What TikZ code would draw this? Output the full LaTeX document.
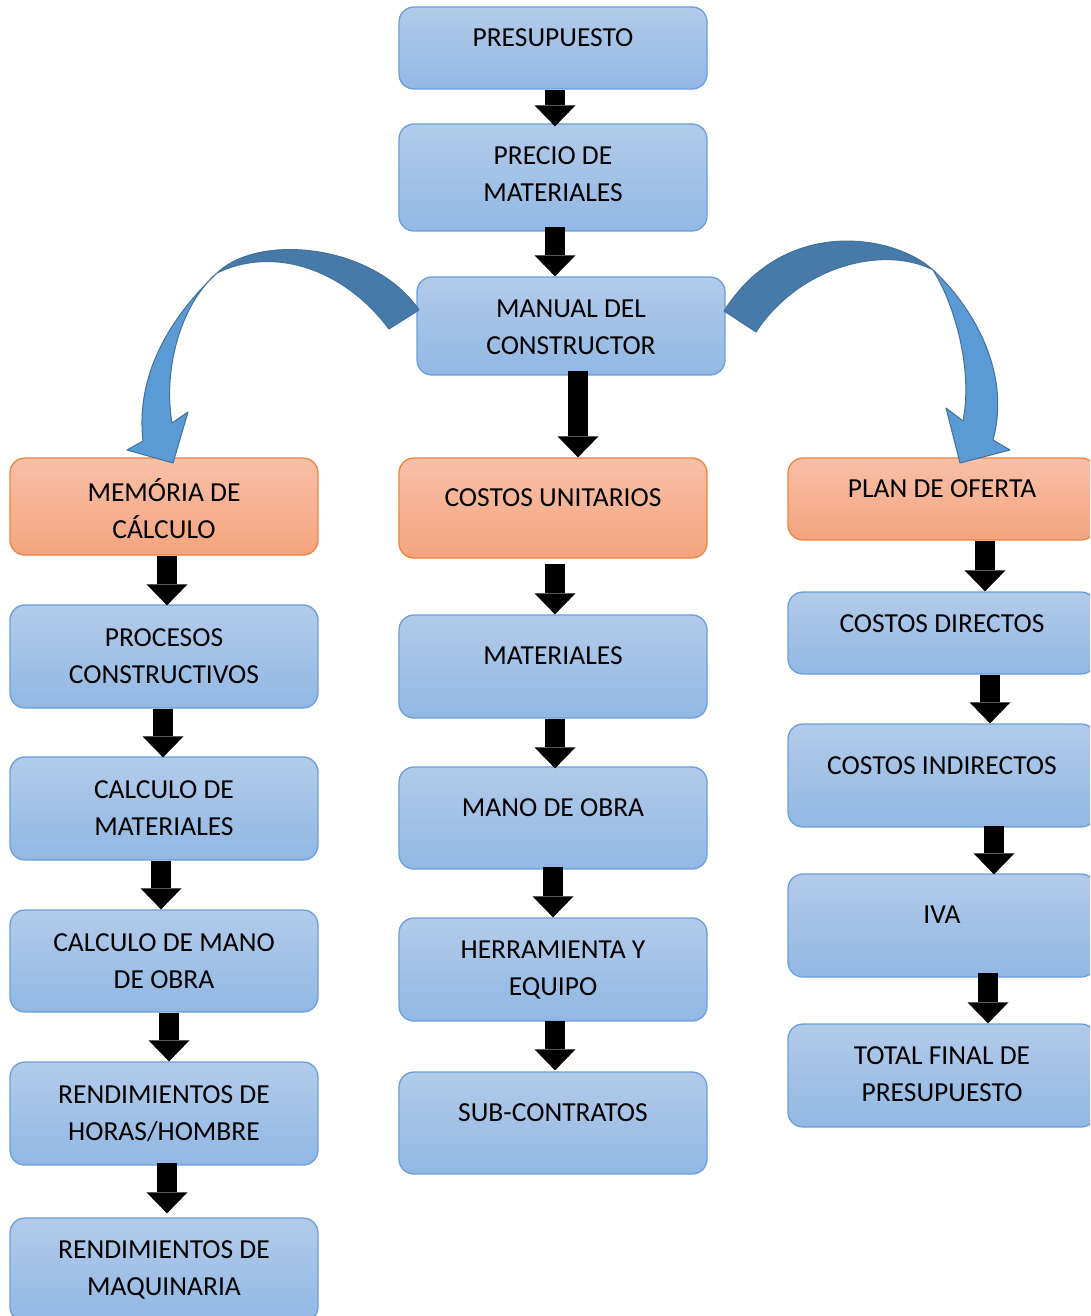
\documentclass[tikz,border=0pt]{standalone}
\usepackage{fontspec}
\setmainfont{Carlito}
\usetikzlibrary{arrows.meta}

\definecolor{blueTop}{RGB}{178,203,234}
\definecolor{blueBot}{RGB}{145,184,228}
\definecolor{blueLine}{RGB}{108,158,218}
\definecolor{orTop}{RGB}{248,192,168}
\definecolor{orBot}{RGB}{244,164,126}
\definecolor{orLine}{RGB}{238,132,60}
\definecolor{arcDark}{RGB}{71,122,169}
\definecolor{arcLight}{RGB}{91,155,213}
\definecolor{arcLine}{RGB}{65,113,156}

\begin{document}
\begin{tikzpicture}[x=1pt,y=-1pt,
  box/.style={rounded corners=15pt, line width=1.3pt, minimum width=308pt, inner sep=0pt},
  bluebox/.style={box, draw=blueLine, top color=blueTop, bottom color=blueBot},
  orangebox/.style={box, draw=orLine, top color=orTop, bottom color=orBot},
  lbl/.style={font=\fontsize{27.5}{37}\selectfont, align=center, inner sep=0pt},
  blk/.style={draw=black, line width=20pt, -{Triangle[width=41pt,length=21pt,line width=0pt]}},
  curvearrow/.style={draw=arcLine, line width=1pt, line join=round},
]
\useasboundingbox (0,0) rectangle (1090,1316);
\clip (0,0) rectangle (1090,1316);

% ---- centre column ----
\node[bluebox, minimum height=82pt]  (pres) at (553,48) {};
\node[bluebox, minimum height=107pt] (prec) at (553,177.5) {};
\node[bluebox, minimum height=98pt]  (man)  at (571,326) {};
\node[orangebox, minimum height=100pt] (cu) at (553,508) {};
\node[bluebox, minimum height=103pt] (mat)  at (553,666.5) {};
\node[bluebox, minimum height=102pt] (mano) at (553,818) {};
\node[bluebox, minimum height=103pt] (herr) at (553,969.5) {};
\node[bluebox, minimum height=102pt] (sub)  at (553,1123) {};

% ---- left column ----
\node[orangebox, minimum height=97pt] (mem) at (164,506.5) {};
\node[bluebox, minimum height=103pt] (proc) at (164,656.5) {};
\node[bluebox, minimum height=103pt] (cmat) at (164,808.5) {};
\node[bluebox, minimum height=102pt] (cmo)  at (164,961) {};
\node[bluebox, minimum height=103pt] (rhh)  at (164,1113.5) {};
\node[bluebox, minimum height=104pt] (rmaq) at (164,1270) {};

% ---- right column ----
\node[orangebox, minimum height=82pt] (plan) at (942,499) {};
\node[bluebox, minimum height=82pt]  (cdir) at (942,633) {};
\node[bluebox, minimum height=103pt] (cind) at (942,775.5) {};
\node[bluebox, minimum height=103pt] (iva)  at (942,925.5) {};
\node[bluebox, minimum height=103pt] (tot)  at (942,1075.5) {};

% ---- labels ----
\node[lbl] (pres-t) at (553,38) {PRESUPUESTO};
\node[lbl] (prec-t) at (553,174.5) {PRECIO DE\\MATERIALES};
\node[lbl] (man-t)  at (571,327.5) {MANUAL DEL\\CONSTRUCTOR};
\node[lbl] (cu-t)   at (553,498) {COSTOS UNITARIOS};
\node[lbl] (mat-t)  at (553,656) {MATERIALES};
\node[lbl] (mano-t) at (553,808) {MANO DE OBRA};
\node[lbl] (herr-t) at (553,969.5) {HERRAMIENTA Y\\EQUIPO};
\node[lbl] (sub-t)  at (553,1113) {SUB-CONTRATOS};

\node[lbl] (mem-t)  at (164,508.5) {MEMÓRIA DE\\CÁLCULO};
\node[lbl] (proc-t) at (164,656.5) {PROCESOS\\CONSTRUCTIVOS};
\node[lbl] (cmat-t) at (164,808.5) {CALCULO DE\\MATERIALES};
\node[lbl] (cmo-t)  at (164,961.5) {CALCULO DE MANO\\DE OBRA};
\node[lbl] (rhh-t)  at (164,1113.5) {RENDIMIENTOS DE\\HORAS/HOMBRE};
\node[lbl] (rmaq-t) at (164,1269.5) {RENDIMIENTOS DE\\MAQUINARIA};

\node[lbl] (plan-t) at (942,489) {PLAN DE OFERTA};
\node[lbl] (cdir-t) at (942,624) {COSTOS DIRECTOS};
\node[lbl] (cind-t) at (942,766) {COSTOS INDIRECTOS};
\node[lbl] (iva-t)  at (942,915) {IVA};
\node[lbl] (tot-t)  at (942,1074.5) {TOTAL FINAL DE\\PRESUPUESTO};

% ---- straight block arrows ----
\draw[blk] ([xshift=2pt]pres.south) -- ([xshift=2pt,yshift=-3pt]prec.north);
\draw[blk] ([xshift=2pt,yshift=5pt]prec.south) -- ([xshift=2pt]prec.south |- man.north);
\draw[blk] ([xshift=7pt,yshift=5pt]man.south) -- ([xshift=7pt]man.south |- cu.north);
\draw[blk] ([xshift=2pt,yshift=-5pt]cu.south) -- ([xshift=2pt]mat.north);
\draw[blk] ([xshift=2pt]mat.south) -- ([xshift=2pt,yshift=-2pt]mano.north);
\draw[blk] ([yshift=3pt]mano.south) -- (herr.north);
\draw[blk] ([xshift=2pt,yshift=1pt]herr.south) -- ([xshift=2pt,yshift=1pt]sub.north);

\draw[blk] ([xshift=3pt]mem.south) -- ([xshift=3pt,yshift=-1pt]proc.north);
\draw[blk] ([xshift=-1pt]proc.south) -- ([xshift=-1pt,yshift=-1pt]cmat.north);
\draw[blk] ([xshift=-3pt]cmat.south) -- ([xshift=-3pt]cmo.north);
\draw[blk] ([xshift=5pt]cmo.south) -- ([xshift=5pt]rhh.north);
\draw[blk] ([xshift=3pt,yshift=3pt]rhh.south) -- ([xshift=3pt,yshift=4pt]rmaq.north);

\draw[blk] ([xshift=43pt]plan.south) -- ([xshift=43pt]cdir.north);
\draw[blk] ([xshift=48pt]cdir.south) -- ([xshift=48pt]cind.north);
\draw[blk] ([xshift=52pt,yshift=2pt]cind.south) -- ([xshift=52pt,yshift=-1pt]iva.north);
\draw[blk] ([xshift=46pt,yshift=5pt]iva.south) -- ([xshift=46pt]tot.north);

% ---- curved arrow towards the left column ----
% front (light) ribbon with its head
\filldraw[curvearrow, fill=arcLight]
  (217,273) .. controls (175,313) and (135,370) .. (143,441)
  -- (127,450) -- (173,463) -- (188,412) -- (172,423)
  .. controls (163,370) and (180,305) .. (217,273) -- cycle;
% back (dark) ribbon ending at the central box
\filldraw[curvearrow, fill=arcDark]
  (217,273) .. controls (260,232) and (375,245) .. (419,310)
  -- (389,329)
  .. controls (345,270) and (275,245) .. (217,273) -- cycle;

% ---- curved arrow towards the right column ----
\filldraw[curvearrow, fill=arcLight]
  (933,270) .. controls (970,304) and (1012,370) .. (993,440)
  -- (1010,450) -- (960,463) -- (946,408) -- (963,421)
  .. controls (973,370) and (955,305) .. (933,270) -- cycle;
\filldraw[curvearrow, fill=arcDark]
  (933,270) .. controls (895,235) and (785,215) .. (724,311)
  -- (756,332)
  .. controls (800,265) and (885,245) .. (933,270) -- cycle;
\end{tikzpicture}
\end{document}
